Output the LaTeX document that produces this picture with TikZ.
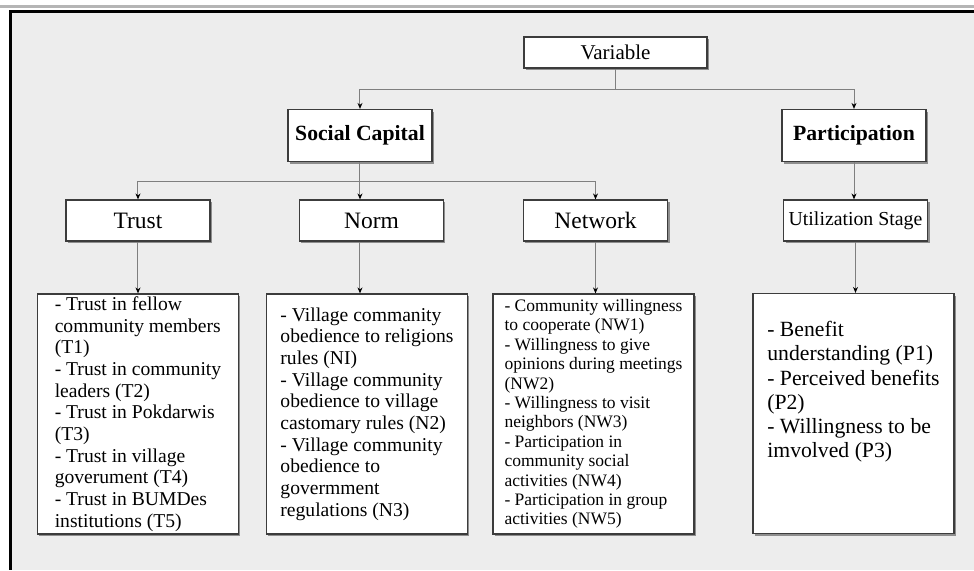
\documentclass[tikz,border=0pt]{standalone}
\usepackage{fontspec}
\setmainfont{Liberation Serif}
\usetikzlibrary{shadows,arrows.meta}

\definecolor{bgGray}{HTML}{EDEDED}
\definecolor{stripGray}{HTML}{B5B5B5}
\definecolor{lineGray}{HTML}{7F7F7F}
\definecolor{boxBorder}{HTML}{3C3C3C}

\tikzstyle{boxbase} = [rectangle, draw=boxBorder, line width=1.2pt, fill=white, inner sep=0pt, text centered, drop shadow={shadow xshift=2pt, shadow yshift=-2pt, fill=black, opacity=0.4}]
\tikzstyle{headbox} = [boxbase, minimum width=183pt, minimum height=31pt, font=\fontsize{21}{24}\selectfont]
\tikzstyle{groupbox} = [boxbase, minimum width=144pt, minimum height=52pt, font=\fontsize{21.7}{24}\selectfont\bfseries]
\tikzstyle{itembox} = [boxbase, minimum width=144pt, minimum height=41pt, font=\fontsize{23.5}{26}\selectfont]
\tikzstyle{listbox} = [boxbase, minimum width=201pt, minimum height=240pt, align=left, font=\fontsize{19.6}{21.7}\selectfont]
\tikzstyle{line} = [draw=lineGray, line width=1pt]
\tikzstyle{arrow} = [line, ->, >={Stealth[length=6pt, width=5pt, black]}]

\begin{document}
\begin{tikzpicture}[x=1pt, y=1pt, node distance=83pt, auto]
	% Frame
	\useasboundingbox (-615.5,52.5) rectangle (358.5,-517.5);
	\fill [white] (-615.5,52.5) rectangle (358.5,-517.5);
	\fill [stripGray] (-615.5,47.5) rectangle (358.5,44.5);
	\fill [bgGray] (-603.5,39.5) rectangle (358.5,-517.5);
	\fill [black] (-606.5,42.5) rectangle (358.5,39.5);
	\fill [black] (-606.5,42.5) rectangle (-603.5,-517.5);
	% Place nodes
	\node [headbox] (Variable) {Variable};
	\node [groupbox, below of=Variable, xshift=-255.5pt] (SocialCapital) {Social Capital};
	\node [groupbox, below of=Variable, xshift=238.5pt] (Participation) {Participation};
	\node [itembox, below of=SocialCapital, xshift=-222pt, yshift=-2pt] (Trust) {Trust};
	\node [itembox, below of=SocialCapital, xshift=11.5pt, yshift=-2pt] (Norm) {Norm};
	\node [itembox, below of=SocialCapital, xshift=235.5pt, yshift=-2pt] (Network) {Network};
	\node [itembox, below of=Participation, xshift=1.5pt, yshift=-2pt, font=\fontsize{19.8}{22}\selectfont] (UtilizationStage) {Utilization Stage};
	\node [listbox, below of=Trust, yshift=-110.5pt] (TrustList) {- Trust in fellow\\community members\\(T1)\\- Trust in community\\leaders (T2)\\- Trust in Pokdarwis\\(T3)\\- Trust in village\\goverument (T4)\\- Trust in BUMDes\\institutions (T5)};
	\node [listbox, below of=Norm, xshift=-4.5pt, yshift=-110.5pt] (NormList) {- Village commanity\\obedience to religions\\rules (NI)\\- Village community\\obedience to village\\castomary rules (N2)\\- Village community\\obedience to\\govermment\\regulations (N3)};
	\node [listbox, below of=Network, xshift=-2pt, yshift=-110.5pt, font=\fontsize{17.5}{19.4}\selectfont] (NetworkList) {- Community willingness\\to cooperate (NW1)\\- Willingness to give\\opinions during meetings\\(NW2)\\- Willingness to visit\\neighbors (NW3)\\- Participation in\\community social\\activities (NW4)\\- Participation in group\\activities (NW5)};
	\node [listbox, below of=UtilizationStage, xshift=-2pt, yshift=-110pt, font=\fontsize{21.7}{24.1}\selectfont, text depth=48pt] (ParticipationList) {- Benefit\\understanding (P1)\\- Perceived benefits\\(P2)\\- Willingness to be\\imvolved (P3)};
	% Junctions
	\coordinate [below of=Variable, node distance=36.5pt] (VariableJoin);
	\coordinate [below of=SocialCapital, node distance=45.5pt] (SocialCapitalJoin);
	% Draw edges
	\draw [line] (Variable.south) -- (VariableJoin);
	\draw [arrow] (VariableJoin) -| (SocialCapital.north);
	\draw [arrow] (VariableJoin) -| (Participation.north);
	\draw [arrow] (SocialCapital.south) -- (SocialCapital.south |- Norm.north);
	\draw [arrow] (SocialCapitalJoin) -| (Trust.north);
	\draw [arrow] (SocialCapitalJoin) -| (Network.north);
	\draw [arrow] (Participation.south) -- (Participation.south |- UtilizationStage.north);
	\draw [arrow] (Trust.south) -- (TrustList.north);
	\draw [arrow] (SocialCapital.south |- Norm.south) -- (SocialCapital.south |- NormList.north);
	\draw [arrow] (Network.south) -- (Network.south |- NetworkList.north);
	\draw [arrow] (UtilizationStage.south) -- (UtilizationStage.south |- ParticipationList.north);
\end{tikzpicture}
\end{document}
